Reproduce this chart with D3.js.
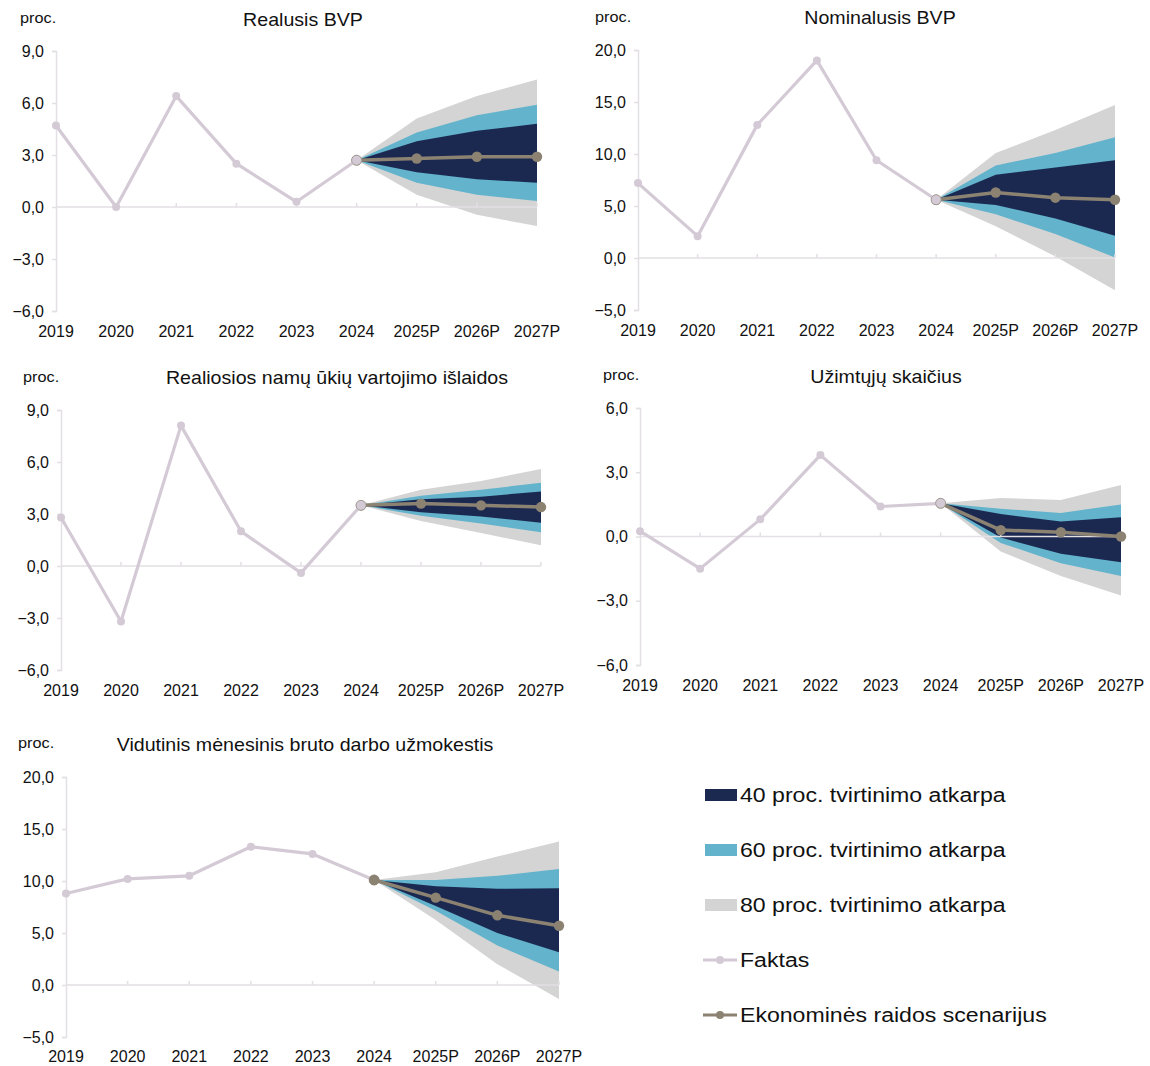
<!DOCTYPE html>
<html><head><meta charset="utf-8">
<script src="https://cdn.jsdelivr.net/npm/d3@7"></script>
<style>
body{margin:0;background:#fff;}
svg{display:block;font-family:"Liberation Sans",Arial,sans-serif;}
</style></head>
<body><svg id="c" width="1150" height="1066"></svg>
<script>
// ---------- DATA ----------
const years = ["2019","2020","2021","2022","2023","2024","2025P","2026P","2027P"];
const factYears = ["2019","2020","2021","2022","2023","2024"];
const scenYears = ["2024","2025P","2026P","2027P"];

const titles = ["Realusis BVP","Nominalusis BVP","Realiosios namų ūkių vartojimo išlaidos","Užimtųjų skaičius","Vidutinis mėnesinis bruto darbo užmokestis"];
const unitLabel = "proc.";

const ticksReal = [-6,-3,0,3,6,9];
const ticksNom = [-5,0,5,10,15,20];
const ticksCons = [-6,-3,0,3,6,9];
const ticksEmp = [-6,-3,0,3,6];
const ticksWage = [-5,0,5,10,15,20];

// Realusis BVP
const realFact = [4.7,0.0,6.4,2.5,0.3,2.7];
const realScen = [2.7,2.8,2.9,2.9];
const real40Hi = [2.7,3.8,4.4,4.8], real40Lo = [2.7,2.0,1.6,1.4];
const real60Hi = [2.7,4.3,5.3,5.9], real60Lo = [2.7,1.4,0.7,0.35];
const real80Hi = [2.7,5.1,6.4,7.35], real80Lo = [2.7,0.7,-0.45,-1.1];

// Nominalusis BVP
const nomFact = [7.2,2.1,12.8,19.0,9.4,5.6];
const nomScen = [5.6,6.3,5.8,5.6];
const nom40Hi = [5.6,8.0,8.7,9.4], nom40Lo = [5.6,5.1,3.8,2.15];
const nom60Hi = [5.6,8.9,10.1,11.6], nom60Lo = [5.6,4.2,2.3,0.05];
const nom80Hi = [5.6,10.1,12.3,14.7], nom80Lo = [5.6,3.05,0.15,-3.1];

// Realiosios namų ūkių vartojimo išlaidos
const consFact = [2.8,-3.2,8.1,2.0,-0.4,3.5];
const consScen = [3.5,3.6,3.5,3.4];
const cons40Hi = [3.5,3.85,4.0,4.3], cons40Lo = [3.5,3.1,2.85,2.5];
const cons60Hi = [3.5,4.05,4.4,4.8], cons60Lo = [3.5,2.9,2.45,1.95];
const cons80Hi = [3.5,4.4,4.9,5.6], cons80Lo = [3.5,2.6,1.9,1.2];

// Užimtųjų skaičius
const empFact = [0.25,-1.5,0.8,3.8,1.4,1.55];
const empScen = [1.55,0.3,0.2,0.0];
const emp40Hi = [1.55,1.05,0.7,0.9], emp40Lo = [1.55,-0.05,-0.8,-1.2];
const emp60Hi = [1.55,1.3,1.1,1.5], emp60Lo = [1.55,-0.3,-1.25,-1.85];
const emp80Hi = [1.55,1.8,1.7,2.4], emp80Lo = [1.55,-0.7,-1.85,-2.75];

// Vidutinis mėnesinis bruto darbo užmokestis
const wageFact = [8.8,10.2,10.5,13.3,12.6,10.1];
const wageScen = [10.1,8.4,6.7,5.7];
const wage40Hi = [10.1,9.5,9.25,9.3], wage40Lo = [10.1,7.6,5.0,3.15];
const wage60Hi = [10.1,10.1,10.5,11.15], wage60Lo = [10.1,7.15,3.8,1.3];
const wage80Hi = [10.1,10.85,12.35,13.8], wage80Lo = [10.1,6.25,2.0,-1.35];

const legendLabels = ["40 proc. tvirtinimo atkarpa","60 proc. tvirtinimo atkarpa","80 proc. tvirtinimo atkarpa","Faktas","Ekonominės raidos scenarijus"];

// ---------- STYLE / LAYOUT ----------
const C40 = "#1b2951", C60 = "#62b3cb", C80 = "#d4d4d4", CFACT = "#d4cad6", CSCEN = "#8b8272", CAXIS = "#e3dfe5";

const panels = [
  {title:titles[0], ticks:ticksReal, fact:realFact, scen:realScen, b40:[real40Lo,real40Hi], b60:[real60Lo,real60Hi], b80:[real80Lo,real80Hi],
   x0:56, x1:537, yTop:51, yBot:311, tx:303, ty:20, px:20, py:18, xl:331, scenOnTop:false},
  {title:titles[1], ticks:ticksNom, fact:nomFact, scen:nomScen, b40:[nom40Lo,nom40Hi], b60:[nom60Lo,nom60Hi], b80:[nom80Lo,nom80Hi],
   x0:638, x1:1115, yTop:50, yBot:310, tx:880, ty:18, px:595, py:17, xl:330, scenOnTop:false},
  {title:titles[2], ticks:ticksCons, fact:consFact, scen:consScen, b40:[cons40Lo,cons40Hi], b60:[cons60Lo,cons60Hi], b80:[cons80Lo,cons80Hi],
   x0:61, x1:541, yTop:410, yBot:670, tx:337, ty:378, px:23, py:377, xl:690, scenOnTop:false},
  {title:titles[3], ticks:ticksEmp, fact:empFact, scen:empScen, b40:[emp40Lo,emp40Hi], b60:[emp60Lo,emp60Hi], b80:[emp80Lo,emp80Hi],
   x0:640, x1:1121, yTop:408, yBot:665, tx:886, ty:377, px:603, py:375, xl:685, scenOnTop:false},
  {title:titles[4], ticks:ticksWage, fact:wageFact, scen:wageScen, b40:[wage40Lo,wage40Hi], b60:[wage60Lo,wage60Hi], b80:[wage80Lo,wage80Hi],
   x0:66, x1:559, yTop:777, yBot:1037, tx:305, ty:745, px:18, py:743, xl:1056, scenOnTop:true}
];

const svg = d3.select("#c");
const fmt = v => d3.format(".1f")(v).replace(".",",").replace("-","\u2212");

// text with slight horizontal stretch to match reference glyph widths
function stext(g, x, y, str, size, sx, anchor) {
  return g.append("text")
    .attr("transform", `translate(${x},${y}) scale(${sx},1)`)
    .attr("dy", "0.35em").attr("text-anchor", anchor || "start")
    .attr("font-size", size).attr("fill", "#111").text(str);
}

panels.forEach(p => {
  const g = svg.append("g");
  const x = d3.scalePoint().domain(years).range([p.x0, p.x1]);
  const y = d3.scaleLinear().domain([d3.min(p.ticks), d3.max(p.ticks)]).range([p.yBot, p.yTop]);

  stext(g, p.tx, p.ty, p.title, 18, 1.09, "middle");
  stext(g, p.px, p.py, unitLabel, 15.5, 1.05, "start");

  // y axis
  const ya = d3.axisLeft(y).tickValues(p.ticks).tickFormat(fmt).tickSize(4).tickPadding(8);
  const yg = g.append("g").attr("transform", `translate(${p.x0},0)`).call(ya);
  yg.select(".domain").attr("stroke", CAXIS).attr("stroke-width", 1.5);
  yg.selectAll(".tick line").attr("stroke", CAXIS).attr("stroke-width", 1.5);
  yg.selectAll(".tick text").attr("font-size", 16).attr("fill","#111").attr("font-family","Liberation Sans, Arial, sans-serif");

  // x labels
  g.selectAll(".xl").data(years).enter().append("text")
    .attr("x", d => x(d)).attr("y", p.xl).attr("dy","0.35em").attr("text-anchor","middle")
    .attr("font-size", 16).attr("fill","#111").text(d => d);

  // bands
  const area = (lo, hi) => d3.area().x((d,i) => x(scenYears[i])).y0((d,i) => y(lo[i])).y1((d,i) => y(hi[i]))(scenYears);
  g.append("path").attr("d", area(p.b80[0], p.b80[1])).attr("fill", C80);
  g.append("path").attr("d", area(p.b60[0], p.b60[1])).attr("fill", C60);
  g.append("path").attr("d", area(p.b40[0], p.b40[1])).attr("fill", C40);

  // zero line + ticks
  g.append("line").attr("x1", p.x0).attr("x2", p.x1).attr("y1", y(0)).attr("y2", y(0))
    .attr("stroke", CAXIS).attr("stroke-width", 1.5);
  g.selectAll(".xt").data(years.slice(1)).enter().append("line")
    .attr("x1", d => x(d)).attr("x2", d => x(d)).attr("y1", y(0)).attr("y2", y(0) - 4)
    .attr("stroke", CAXIS).attr("stroke-width", 1.5);

  const line = d3.line().x(d => x(d[0])).y(d => y(d[1]));
  const drawFact = () => {
    const fd = factYears.map((yy,i) => [yy, p.fact[i]]);
    g.append("path").attr("d", line(fd)).attr("fill","none").attr("stroke", CFACT).attr("stroke-width", 3.2).attr("stroke-linejoin","round");
    g.selectAll(null).data(fd).enter().append("circle")
      .attr("cx", d => x(d[0])).attr("cy", d => y(d[1])).attr("r", (d,i) => i===5 ? 5 : 4)
      .attr("fill", CFACT).attr("stroke", (d,i) => i===5 ? "#9b948a" : "none").attr("stroke-width", 0.8);
  };
  const drawScen = () => {
    const sd = scenYears.map((yy,i) => [yy, p.scen[i]]);
    g.append("path").attr("d", line(sd)).attr("fill","none").attr("stroke", CSCEN).attr("stroke-width", 3.5).attr("stroke-linejoin","round");
    g.selectAll(null).data(sd).enter().append("circle")
      .attr("cx", d => x(d[0])).attr("cy", d => y(d[1])).attr("r", 5.2).attr("fill", CSCEN);
  };
  if (p.scenOnTop) { drawFact(); drawScen(); } else { drawScen(); drawFact(); }
});

// legend
const lg = svg.append("g");
const rows = [795, 850, 905, 960, 1015];
const swatchCols = [C40, C60, C80];
legendLabels.forEach((lab, i) => {
  const cy = rows[i];
  if (i < 3) {
    lg.append("rect").attr("x", 705).attr("y", cy - 6).attr("width", 32).attr("height", 12).attr("fill", swatchCols[i]);
  } else {
    const col = i === 3 ? CFACT : CSCEN;
    lg.append("line").attr("x1", 703).attr("x2", 737).attr("y1", cy).attr("y2", cy).attr("stroke", col).attr("stroke-width", 3.2);
    lg.append("circle").attr("cx", 720).attr("cy", cy).attr("r", 4).attr("fill", col);
  }
  stext(lg, 740, cy, lab, 21, 1.1, "start");
});
</script>
</body></html>
